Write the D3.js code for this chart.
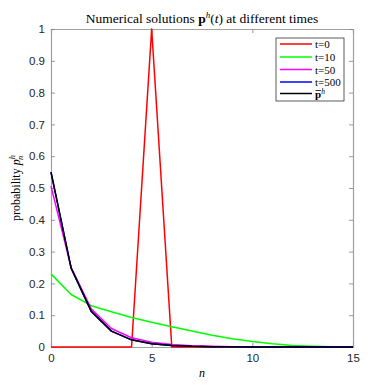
<!DOCTYPE html>
<html><head><meta charset="utf-8">
<script src="https://cdn.jsdelivr.net/npm/d3@7"></script>
<style>body{margin:0;background:#fff}svg{display:block}</style>
</head><body>
<svg id="c" width="390" height="390"></svg>
<script>
const nVals = d3.range(0, 16);
const t0 = [0,0,0,0,0,1,0,0,0,0,0,0,0,0,0,0];
const t10 = [0.23,0.165,0.13,0.111,0.093,0.078,0.064,0.05,0.037,0.026,0.017,0.01,0.005,0.0025,0.001,0.0004];
const t50 = [0.506,0.25,0.12,0.058,0.029,0.015,0.008,0.004,0.002,0.001,0.0005,0.0002,0.0001,0,0,0];
const t500 = [0.55,0.248,0.112,0.05,0.0225,0.0101,0.0046,0.002,0.0009,0.0004,0.0002,0.0001,0,0,0,0];
const pbar = [0.55,0.248,0.112,0.05,0.0225,0.0101,0.0046,0.002,0.0009,0.0004,0.0002,0.0001,0,0,0,0];
const xTicks = [0,5,10,15];
const yTicks = [0,0.1,0.2,0.3,0.4,0.5,0.6,0.7,0.8,0.9,1];
const series = [
  {name:"t=0", vals:t0, color:"#ff0000"},
  {name:"t=10", vals:t10, color:"#00ff00"},
  {name:"t=50", vals:t50, color:"#ff00ff"},
  {name:"t=500", vals:t500, color:"#0000ff"},
  {name:"pbar", vals:pbar, color:"#000000"}
];

const L=51, R=353, T=29, B=347;
const svg = d3.select("#c");
const x = d3.scaleLinear().domain([0,15]).range([L,R]);
const y = d3.scaleLinear().domain([0,1]).range([B,T]);
const axCol = "#262626";
const tickFont = "'Liberation Sans', Arial, sans-serif";
const serif = "'Liberation Serif', 'DejaVu Serif', serif";

// axes
const gx = svg.append("g").attr("transform",`translate(0,${B})`)
  .call(d3.axisBottom(x).tickValues(xTicks).tickSize(-4).tickPadding(7));
const gxt = svg.append("g").attr("transform",`translate(0,${T})`)
  .call(d3.axisTop(x).tickValues(xTicks).tickSize(-4).tickFormat(""));
const gy = svg.append("g").attr("transform",`translate(${L},0)`)
  .call(d3.axisLeft(y).tickValues(yTicks).tickSize(-4).tickPadding(6).tickFormat(d=>d3.format("")(+d.toFixed(1))));
const gyr = svg.append("g").attr("transform",`translate(${R},0)`)
  .call(d3.axisRight(y).tickValues(yTicks).tickSize(-4).tickFormat(""));
[gx,gxt,gy,gyr].forEach(g=>{
  g.selectAll("path").attr("stroke","#a0a0a0").attr("stroke-width",1.2);
  g.selectAll("line").attr("stroke","#808080").attr("stroke-width",0.8);
  g.selectAll("text").attr("fill",axCol).style("font-family",tickFont).style("font-size","11.5px");
});

// lines
const line = d3.line().x((d,i)=>x(nVals[i])).y(d=>y(d));
series.forEach(s=>{
  svg.append("path").datum(s.vals).attr("d",line)
    .attr("fill","none").attr("stroke",s.color).attr("stroke-width",1.5)
    .attr("stroke-linejoin","round");
});

// title
const title = svg.append("text").attr("x",202).attr("y",23).attr("text-anchor","middle")
  .style("font-family",serif).style("font-size","13.5px").attr("fill","#000");
title.append("tspan").text("Numerical solutions ");
title.append("tspan").style("font-weight","bold").text("p");
title.append("tspan").attr("dy",-5).style("font-size","9px").style("font-style","italic").text("h");
title.append("tspan").attr("dy",5).text("(");
title.append("tspan").style("font-style","italic").text("t");
title.append("tspan").text(") at different times");

// x label
svg.append("text").attr("x",(L+R)/2).attr("y",377).attr("text-anchor","middle")
  .style("font-family",serif).style("font-size","12px").style("font-style","italic").text("n");

// y label
const yl = svg.append("text").attr("transform",`translate(20,${(T+B)/2}) rotate(-90)`)
  .attr("text-anchor","middle").style("font-family",serif).style("font-size","12px").attr("fill","#000");
yl.append("tspan").text("probability ");
yl.append("tspan").style("font-style","italic").text("p");
yl.append("tspan").attr("dy",-5).attr("dx",0).style("font-size","8.5px").style("font-style","italic").text("h");
yl.append("tspan").attr("dy",8).attr("dx",-5).style("font-size","8.5px").style("font-style","italic").text("n");

// legend
const lg = svg.append("g");
lg.append("rect").attr("x",276).attr("y",38).attr("width",68).attr("height",63)
  .attr("fill","#fff").attr("stroke","#333").attr("stroke-width",0.8);
const rowY = [44,57,69.5,82,93.5];
series.forEach((s,i)=>{
  lg.append("line").attr("x1",280).attr("x2",312).attr("y1",rowY[i]).attr("y2",rowY[i])
    .attr("stroke",s.color).attr("stroke-width",1.5);
  if(s.name==="pbar"){
    const t = lg.append("text").attr("x",315).attr("y",rowY[i]+4)
      .style("font-family",serif).style("font-size","11px").attr("fill","#000");
    t.append("tspan").style("font-weight","bold").text("p");
    t.append("tspan").attr("dy",-4).style("font-size","7.5px").style("font-style","italic").text("h");
    lg.append("line").attr("x1",315.5).attr("x2",321).attr("y1",rowY[i]-3).attr("y2",rowY[i]-3)
      .attr("stroke","#000").attr("stroke-width",0.8);
  } else {
    lg.append("text").attr("x",315).attr("y",rowY[i]+4)
      .style("font-family",serif).style("font-size","11px").attr("fill","#000").text(s.name);
  }
});
</script>
</body></html>
